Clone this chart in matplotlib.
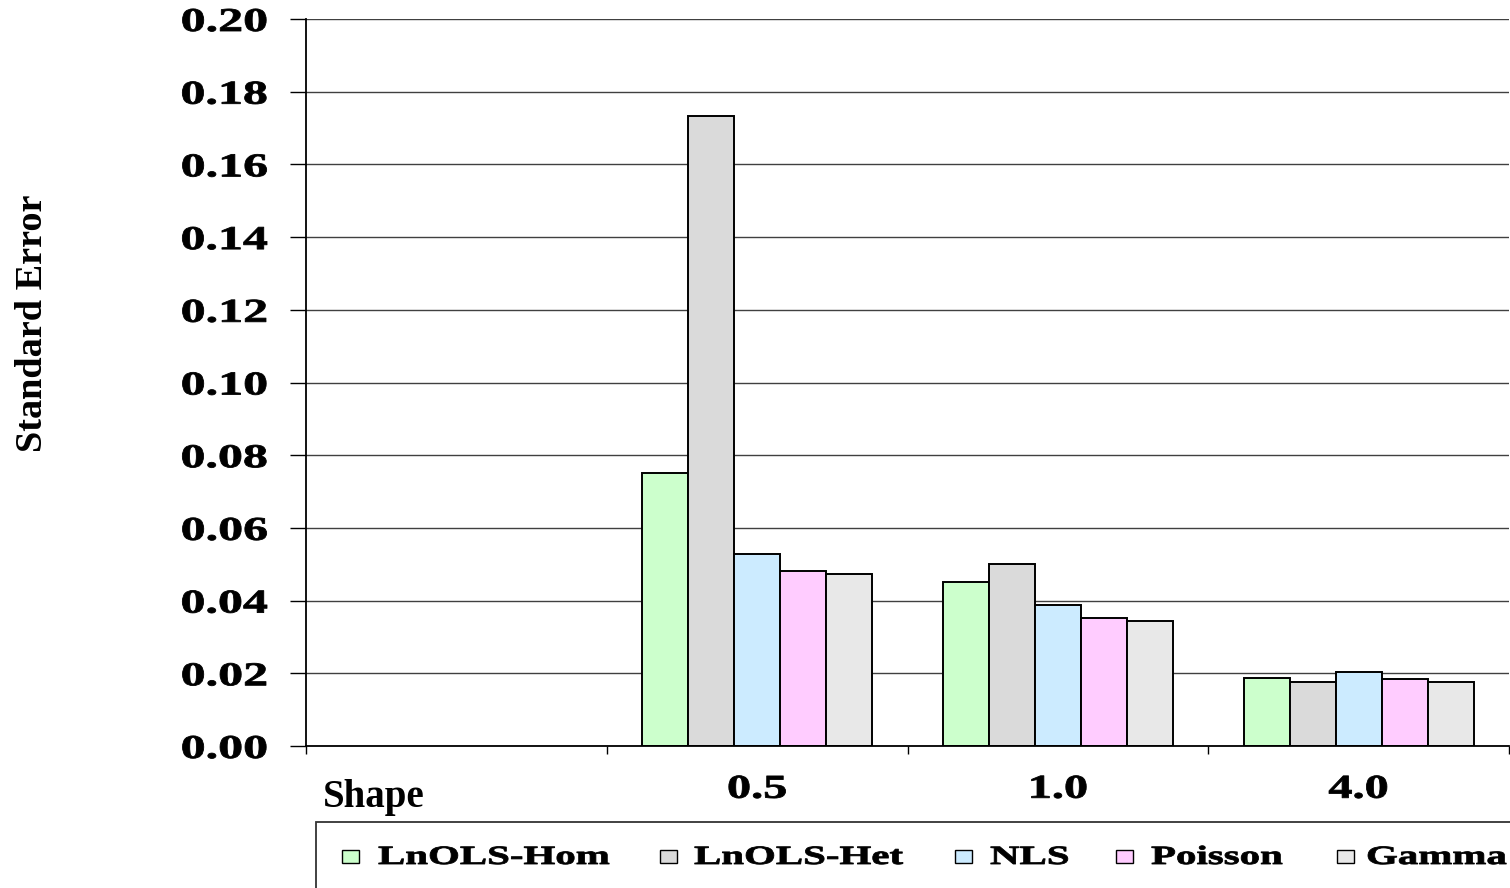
import matplotlib
matplotlib.use("Agg")
import matplotlib.pyplot as plt
import numpy as np
from matplotlib import patheffects
from matplotlib.patches import Rectangle
from matplotlib.transforms import Affine2D

# ---- data -------------------------------------------------------------
shape_levels = ["0.5", "1.0", "4.0"]
series_names = ["LnOLS-Hom", "LnOLS-Het", "NLS", "Poisson", "Gamma"]
lnols_hom = [0.0751, 0.0451, 0.0187]
lnols_het = [0.1733, 0.0501, 0.0176]
nls = [0.0528, 0.0388, 0.0204]
poisson = [0.0481, 0.0352, 0.0184]
gamma = [0.0473, 0.0344, 0.0176]
series_colors = ["#CCFFCC", "#DADADA", "#CCEBFF", "#FFCCFF", "#E8E8E8"]
y_ticks = [0.00, 0.02, 0.04, 0.06, 0.08, 0.10, 0.12, 0.14, 0.16, 0.18, 0.20]

W, H = 1510, 888
SERIF = "Liberation Serif"


class HStretch(patheffects.AbstractPathEffect):
    """Widen glyphs horizontally about a fixed display x coordinate,
    with an optional outline to make the strokes heavier."""

    def __init__(self, sx, x0, stroke=0.0):
        super().__init__()
        self.sx = sx
        self.x0 = x0
        self.stroke = stroke

    def draw_path(self, renderer, gc, tpath, affine, rgbFace=None):
        t = affine + Affine2D().translate(-self.x0, 0).scale(self.sx, 1).translate(self.x0, 0)
        gc0 = renderer.new_gc()
        gc0.copy_properties(gc)
        if self.stroke > 0 and rgbFace is not None:
            gc0.set_linewidth(self.stroke)
            gc0.set_foreground(rgbFace)
        renderer.draw_path(gc0, tpath, t, rgbFace)
        gc0.restore()


fig = plt.figure(figsize=(W / 100, H / 100), dpi=100)
ax_l, ax_r, ax_t, ax_b = 306, 1509, 19, 746
ax = fig.add_axes([ax_l / W, 1 - ax_b / H, (ax_r - ax_l) / W, (ax_b - ax_t) / H])

values = [lnols_hom, lnols_het, nls, poisson, gamma]
positions = np.arange(1, len(shape_levels) + 1)
bar_w = 0.153
for i, (name, vals, col) in enumerate(zip(series_names, values, series_colors)):
    ax.bar(positions + (i - 2) * bar_w, vals, width=bar_w, color=col,
           edgecolor="black", linewidth=1.4, label=name, zorder=3)

ax.set_xlim(-0.5, 3.5)
ax.set_ylim(0, 0.20)

# grid and spines
ax.yaxis.grid(True, color="#404040", linewidth=1.0, zorder=0)
ax.set_axisbelow(True)
for s in ["top", "right"]:
    ax.spines[s].set_visible(False)
for s in ["left", "bottom"]:
    ax.spines[s].set_linewidth(1.3)
    ax.spines[s].set_color("black")
    ax.spines[s].set_zorder(4)

# y ticks
tick_len_px, pad_px = 16, 22
ax.set_yticks(y_ticks, [f"{v:.2f}" for v in y_ticks])
ax.tick_params(axis="y", direction="out", length=tick_len_px * 0.72,
               width=1.0, pad=pad_px * 0.72, labelsize=24)
y_anchor = ax_l - tick_len_px - pad_px
for lab in ax.yaxis.get_majorticklabels():
    lab.set_fontfamily(SERIF)
    lab.set_fontweight("bold")
    lab.set_path_effects([HStretch(1.5, y_anchor, stroke=0.6)])

# x ticks: labels at category centres, marks at category boundaries
ax.set_xticks(positions, shape_levels)
ax.set_xticks(np.arange(-0.5, 3.6, 1.0), minor=True)
ax.tick_params(axis="x", which="major", length=0, pad=20, labelsize=24)
ax.tick_params(axis="x", which="minor", direction="out", length=6, width=1.0)
for p, lab in zip(positions, ax.xaxis.get_majorticklabels()):
    lab.set_fontfamily(SERIF)
    lab.set_fontweight("bold")
    x0 = ax.transData.transform((p, 0))[0]
    lab.set_path_effects([HStretch(1.45, x0, stroke=0.6)])

fig.text(323 / W, 1 - 807 / H, "Shape", fontsize=28, fontweight="bold",
         family=SERIF, ha="left", va="baseline")
fig.text(33 / W, 1 - 323 / H, "Standard Error", fontsize=27.5, fontweight="bold",
         family=SERIF, rotation=90, ha="center", va="center")

# legend box along the bottom
fig.add_artist(Rectangle((316 / W, -0.05), (1700 - 316) / W, (H - 822) / H + 0.05,
                         transform=fig.transFigure, fill=False,
                         edgecolor="#333333", linewidth=1.3))
marker_x = [342, 660, 955, 1116, 1337]
label_x = [378, 694, 990, 1151, 1366]
for name, col, mx, lx in zip(series_names, series_colors, marker_x, label_x):
    fig.add_artist(Rectangle((mx / W, 1 - 863 / H), 17 / W, 13 / H,
                             transform=fig.transFigure, facecolor=col,
                             edgecolor="black", linewidth=1.0))
    fig.text(lx / W, 1 - 864 / H, name, fontsize=19, fontweight="bold",
             family=SERIF, ha="left", va="baseline",
             path_effects=[HStretch(1.55, lx, stroke=0.6)])

fig.savefig("out.png", dpi=100)
